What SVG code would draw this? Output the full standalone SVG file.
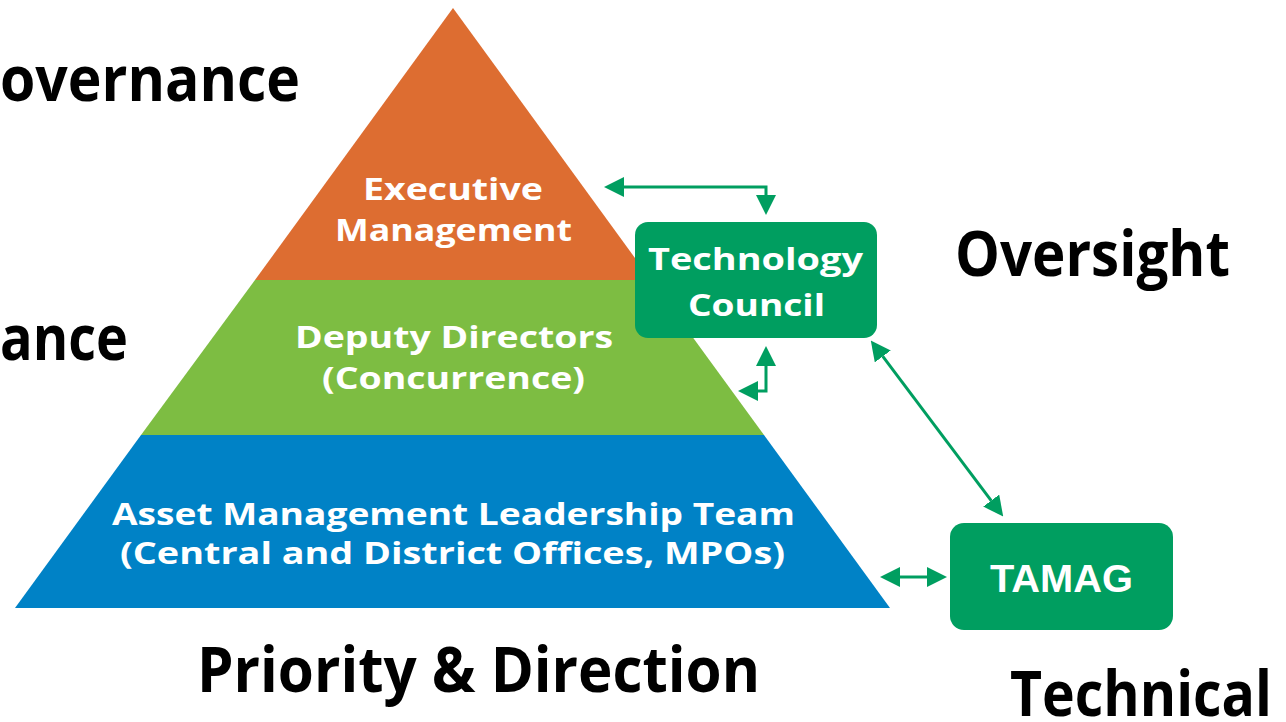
<svg xmlns="http://www.w3.org/2000/svg" width="1286" height="722" viewBox="0 0 1286 722">
<defs>
<style>
.lbl{font-family:"Open Sans","Liberation Sans",sans-serif;font-weight:700;fill:#000;font-size:62px}
.tier{font-family:"Open Sans","Liberation Sans",sans-serif;font-weight:700;fill:#fff;font-size:31px;text-anchor:start}
.box{fill:#009E60}
.boxt{font-family:"Open Sans","Liberation Sans",sans-serif;font-weight:700;fill:#fff;font-size:31px}
.conn{fill:none;stroke:#009E60;stroke-width:3}
</style>
<marker id="ah" markerUnits="userSpaceOnUse" markerWidth="20" markerHeight="20" refX="0" refY="9" orient="auto-start-reverse" viewBox="0 0 18 18">
<path d="M0,0 L18,9 L0,18 Z" fill="#009E60"/>
</marker>
</defs>
<rect width="1286" height="722" fill="#fff"/>

<g id="side-labels">
<text class="lbl" x="0" y="101" textLength="300" lengthAdjust="spacingAndGlyphs">overnance</text>
<text class="lbl" x="0" y="360" textLength="128" lengthAdjust="spacingAndGlyphs">ance</text>
<text class="lbl" x="955" y="276" textLength="275" lengthAdjust="spacingAndGlyphs">Oversight</text>
<text class="lbl" x="197" y="692" textLength="563" lengthAdjust="spacingAndGlyphs">Priority &amp; Direction</text>
<text class="lbl" x="1010" y="716" textLength="262" lengthAdjust="spacingAndGlyphs">Technical</text>
</g>

<g id="executive-management">
<polygon points="453,8 651,280 255,280" fill="#DD6D31"/>
<text class="tier" x="363" y="200" textLength="180" lengthAdjust="spacingAndGlyphs">Executive</text>
<text class="tier" x="335" y="241" textLength="237" lengthAdjust="spacingAndGlyphs">Management</text>
</g>

<g id="deputy-directors">
<polygon points="255,280 651,280 764,435 141,435" fill="#7DBD42"/>
<text class="tier" x="295" y="348" textLength="318" lengthAdjust="spacingAndGlyphs">Deputy Directors</text>
<text class="tier" x="322" y="389" textLength="263" lengthAdjust="spacingAndGlyphs">(Concurrence)</text>
</g>

<g id="asset-management-leadership-team">
<polygon points="141,435 764,435 890,608 15,608" fill="#0082C6"/>
<text class="tier" x="112" y="525" textLength="683" lengthAdjust="spacingAndGlyphs">Asset Management Leadership Team</text>
<text class="tier" x="120" y="564" textLength="665" lengthAdjust="spacingAndGlyphs">(Central and District Offices, MPOs)</text>
</g>

<g id="technology-council">
<rect class="box" x="635" y="222" width="242" height="116" rx="13"/>
<text class="boxt" x="648" y="270" textLength="215" lengthAdjust="spacingAndGlyphs">Technology</text>
<text class="boxt" x="688" y="316" textLength="137" lengthAdjust="spacingAndGlyphs">Council</text>
</g>

<g id="tamag">
<rect class="box" x="950" y="523" width="223" height="107" rx="14"/>
<text x="990" y="592" font-family="Liberation Sans, Arial, sans-serif" font-weight="700" font-size="39" fill="#fff" textLength="143" lengthAdjust="spacingAndGlyphs">TAMAG</text>
</g>

<g id="connectors">
<path class="conn" d="M624,187 L766,187 L766,195" marker-start="url(#ah)" marker-end="url(#ah)"/>
<path class="conn" d="M758,391 L766,391 L766,366" marker-start="url(#ah)" marker-end="url(#ah)"/>
<path class="conn" d="M882.8,356.4 L991.2,500.6" marker-start="url(#ah)" marker-end="url(#ah)"/>
<path class="conn" d="M900,577 L927,577" marker-start="url(#ah)" marker-end="url(#ah)"/>
</g>
</svg>
